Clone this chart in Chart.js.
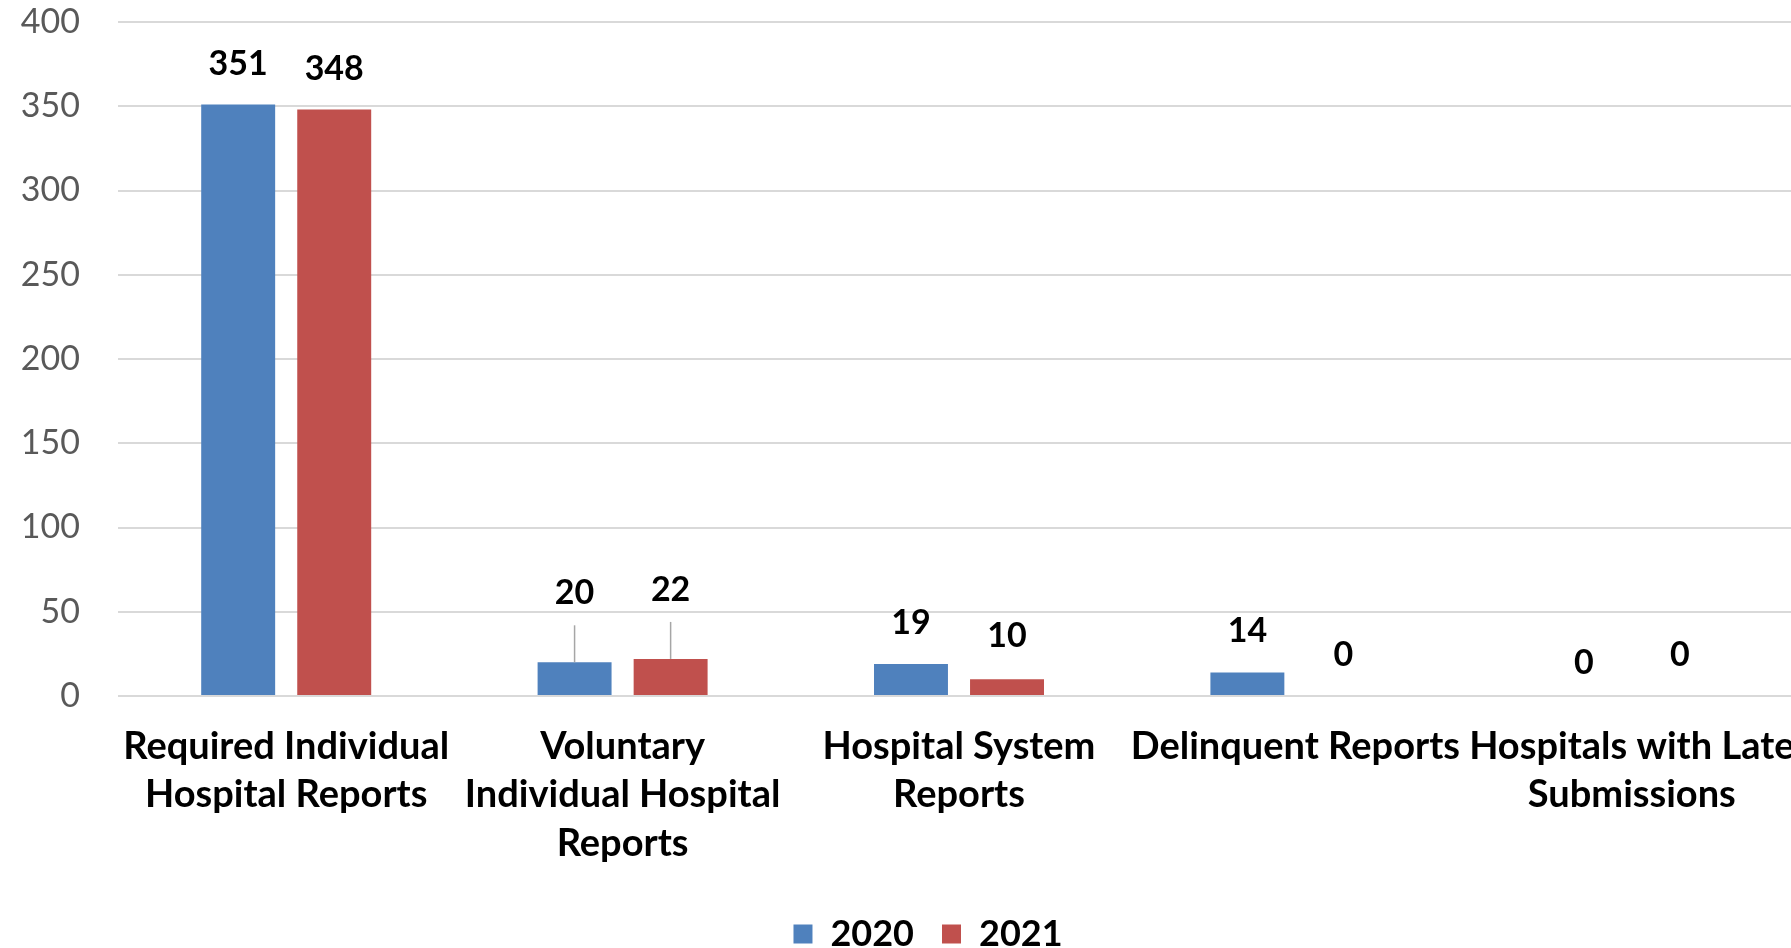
<!DOCTYPE html>
<html>
<head>
<meta charset="utf-8">
<script src="https://cdn.jsdelivr.net/npm/chart.js@4/dist/chart.umd.min.js"></script>
<style>
    html, body { margin: 0; padding: 0; background: #fff; overflow: hidden; }
    #wrap { width: 1791px; height: 948px; overflow: hidden; position: relative; }
    #box { width: 1856px; height: 948px; position: absolute; left: 0; top: 0; }
</style>
</head>
<body>
<div id="wrap"><div id="box"><canvas id="grafica"></canvas></div></div>
<script>
// Datos del gráfico
const categorias = [
    ['Required Individual', 'Hospital Reports'],
    ['Voluntary', 'Individual Hospital', 'Reports'],
    ['Hospital System', 'Reports'],
    ['Delinquent Reports'],
    ['Hospitals with Late', 'Submissions']
];
const series = ['2020', '2021'];
const valores2020 = [351, 20, 19, 14, 0];
const valores2021 = [348, 22, 10, 0, 0];
const ticksY = [0, 50, 100, 150, 200, 250, 300, 350, 400];

// Estilo de las etiquetas de datos (distancia sobre la barra, en px)
const elevacion = [
    [41, 69, 41, 41, 33],
    [41, 69, 43, 41, 41]
];

const etiquetasDatos = {
    id: 'etiquetasDatos',
    afterLayout(chart) {
        // centrar la leyenda en todo el lienzo
        chart.legend.left = 0;
        chart.legend.right = chart.width;
        chart.legend.width = chart.width;
    },
    afterDatasetsDraw(chart) {
        const ctx = chart.ctx;
        ctx.save();
        ctx.font = 'bold 34px Lato';
        ctx.fillStyle = '#000';
        ctx.textAlign = 'center';
        ctx.textBaseline = 'middle';
        chart.data.datasets.forEach((ds, i) => {
            chart.getDatasetMeta(i).data.forEach((bar, j) => {
                const lift = elevacion[i][j];
                const y = bar.y - lift;
                if (lift > 55) {
                    // línea guía
                    ctx.strokeStyle = '#a6a6a6';
                    ctx.lineWidth = 1.5;
                    ctx.beginPath();
                    ctx.moveTo(bar.x, bar.y);
                    ctx.lineTo(bar.x, y + 32);
                    ctx.stroke();
                }
                ctx.fillText(String(ds.data[j]), bar.x, y);
            });
        });
        ctx.restore();
    }
};

new Chart(document.getElementById('grafica'), {
    type: 'bar',
    data: {
        labels: categorias,
        datasets: [
            { label: series[0], data: valores2020, backgroundColor: '#4F81BD' },
            { label: series[1], data: valores2021, backgroundColor: '#C0504D' }
        ]
    },
    options: {
        responsive: true,
        maintainAspectRatio: false,
        animation: false,
        categoryPercentage: 0.571,
        barPercentage: 0.77,
        layout: { padding: { left: 14, right: 56, top: 22, bottom: -14 } },
        plugins: {
            legend: {
                position: 'bottom',
                labels: {
                    color: '#000',
                    font: { family: 'Lato', size: 36, weight: 'bold' },
                    boxWidth: 19,
                    boxHeight: 19,
                    padding: 28
                }
            },
            tooltip: { enabled: false }
        },
        scales: {
            x: {
                grid: { display: false },
                border: { display: false },
                ticks: {
                    color: '#000',
                    font: { family: 'Lato', size: 38, weight: 'bold', lineHeight: 1.28 },
                    maxRotation: 0,
                    autoSkip: false,
                    padding: 18
                },
                afterFit: scale => { scale.height = 192; }
            },
            y: {
                min: 0,
                max: 400,
                afterBuildTicks: axis => { axis.ticks = ticksY.map(v => ({ value: v })); },
                grid: { color: '#d9d9d9', lineWidth: 2, drawTicks: true, tickLength: 38, tickColor: 'rgba(0,0,0,0)' },
                border: { display: false },
                ticks: {
                    color: '#595959',
                    font: { family: 'Lato', size: 34 },
                    padding: 0
                },
                afterFit: scale => { scale.width = 104; }
            }
        }
    },
    plugins: [etiquetasDatos]
});
</script>
</body>
</html>
